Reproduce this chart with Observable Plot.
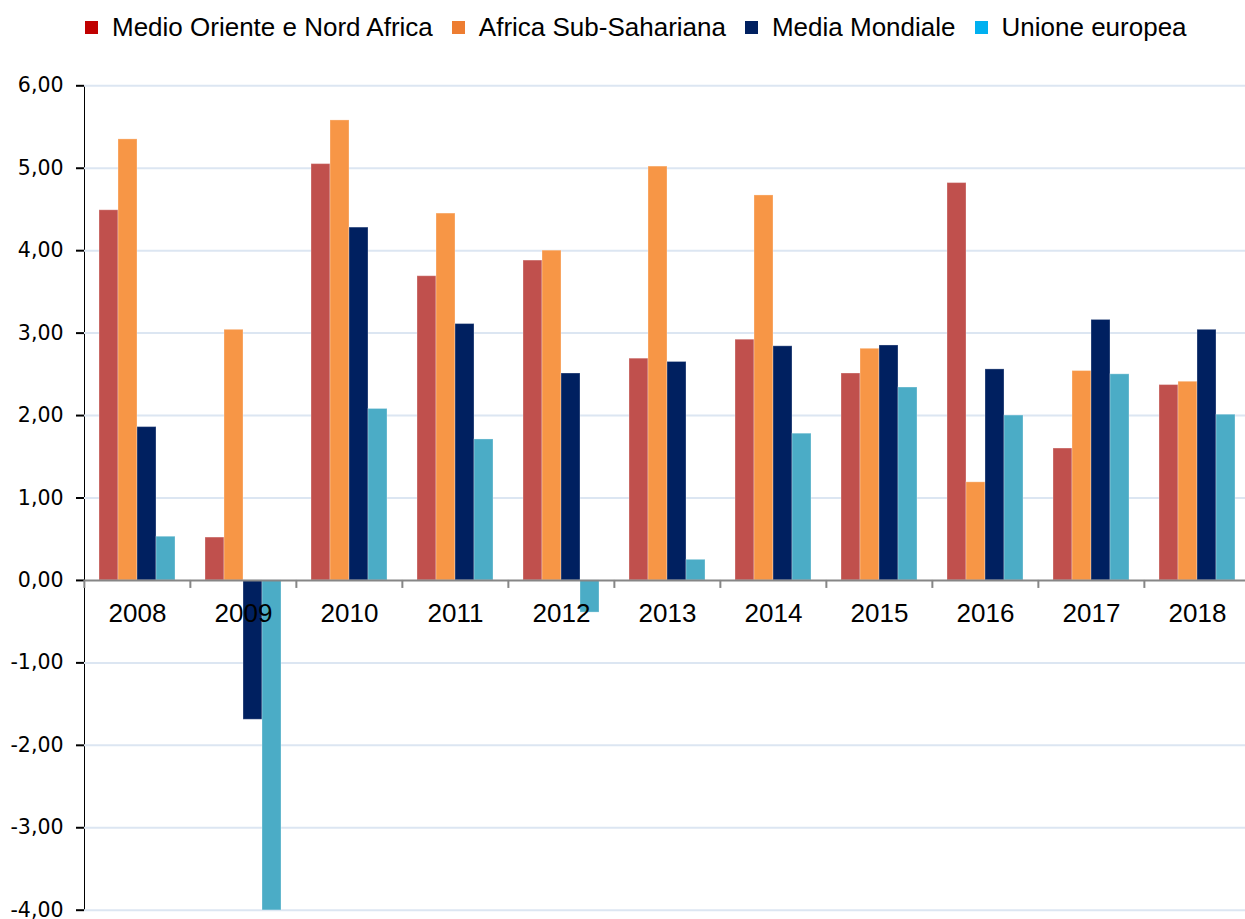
<!DOCTYPE html>
<html><head><meta charset="utf-8">
<script src="https://cdn.jsdelivr.net/npm/d3@7"></script>
<script src="https://cdn.jsdelivr.net/npm/@observablehq/plot@0.6"></script>
<style>
html,body{margin:0;padding:0;background:#fff;overflow:hidden;}
#legend{height:55px;display:flex;align-items:center;padding-left:85px;font-family:"Liberation Sans",Arial,sans-serif;font-size:26px;color:#000;white-space:nowrap;}
.item{display:flex;align-items:center;margin-right:19px;}
.sw{width:13px;height:13px;margin-right:14px;flex:none;}
#chart{line-height:0;width:1251px;}
#chart svg{max-width:none !important;}
#chart svg g[aria-label="y-axis tick"]{stroke:#868686;stroke-width:2px;}
#chart svg g[aria-label="y-axis tick label"]{fill:#000;}
</style></head><body>
<div id="legend"></div><div id="chart"></div>
<script>
const years = ["2008","2009","2010","2011","2012","2013","2014","2015","2016","2017","2018"];
const seriesNames = ["Medio Oriente e Nord Africa","Africa Sub-Sahariana","Media Mondiale","Unione europea"];
const medioOriente = [4.49,0.52,5.05,3.69,3.88,2.69,2.92,2.51,4.82,1.60,2.37];
const africaSub = [5.35,3.04,5.58,4.45,4.00,5.02,4.67,2.81,1.19,2.54,2.41];
const mediaMondiale = [1.86,-1.69,4.28,3.11,2.51,2.65,2.84,2.85,2.56,3.16,3.04];
const unioneEuropea = [0.53,-4.3,2.08,1.71,-0.39,0.25,1.78,2.34,2.00,2.50,2.01];
const yTicks = [-4,-3,-2,-1,0,1,2,3,4,5,6];
const barColors = ["#C0504D","#F79646","#002060","#4BACC6"];
const legendColors = ["#C00000","#ED7D31","#002060","#00B0F0"];

const valueArrays = [medioOriente, africaSub, mediaMondiale, unioneEuropea];
const rows = [];
years.forEach((y, i) => seriesNames.forEach((s, j) => rows.push({year: y, series: s, value: valueArrays[j][i]})));
const yearRows = years.map(y => ({year: y, zero: 0}));

// legend
const legend = document.getElementById("legend");
seriesNames.forEach((s, j) => {
  const it = document.createElement("div"); it.className = "item";
  const sw = document.createElement("span"); sw.className = "sw"; sw.style.background = legendColors[j];
  const tx = document.createElement("span"); tx.textContent = s;
  it.appendChild(sw); it.appendChild(tx); legend.appendChild(it);
});

const W = 1251, H = 864, mT = 30.3, mB = 9.3, mL = 82, mR = 0;
const fmt = d => d.toFixed(2).replace(".", ",");
const zeroPx = mT + (6 - 0) / 10 * (H - mT - mB);
const step = (W - mL - mR) / years.length;

const plot = Plot.plot({
  width: W, height: H,
  marginTop: mT, marginBottom: mB, marginLeft: mL, marginRight: mR,
  facet: {marginTop: 0, marginBottom: 0, marginLeft: 0, marginRight: 0},
  style: {fontFamily: "DejaVu Sans, Verdana, sans-serif", fontSize: "20.5px", color: "#000", background: "#fff", overflow: "visible", maxWidth: "none"},
  fx: {domain: years, padding: 0, axis: null, label: null},
  x: {domain: seriesNames, paddingInner: 0, paddingOuter: 0.72, axis: null, label: null},
  y: {domain: [-4, 6], ticks: yTicks, tickSize: 8, tickPadding: 13, tickFormat: fmt, line: true, label: null},
  color: {domain: seriesNames, range: barColors},
  marks: [
    Plot.ruleY(yTicks.filter(d => d !== 0), {stroke: "#dce6f2", strokeWidth: 2}),
    Plot.barY(rows, {fx: "year", x: "series", y: "value", fill: "series", stroke: "#ffffff", strokeOpacity: 0.3, strokeWidth: 1, clip: true}),
    Plot.ruleY([0], {stroke: "#868686", strokeWidth: 2}),
    Plot.axisFx({anchor: "bottom", tickSize: 8, tickFormat: () => "", label: null, dx: -step / 2, dy: zeroPx - (H - mB), stroke: "#868686", strokeWidth: 2}),
    Plot.text(yearRows, {fx: "year", y: "zero", text: "year", dy: 33, fontSize: 26, fontFamily: "Liberation Sans, Arial, sans-serif", fill: "#000"})
  ]
});
document.getElementById("chart").appendChild(plot);
</script>
</body></html>
